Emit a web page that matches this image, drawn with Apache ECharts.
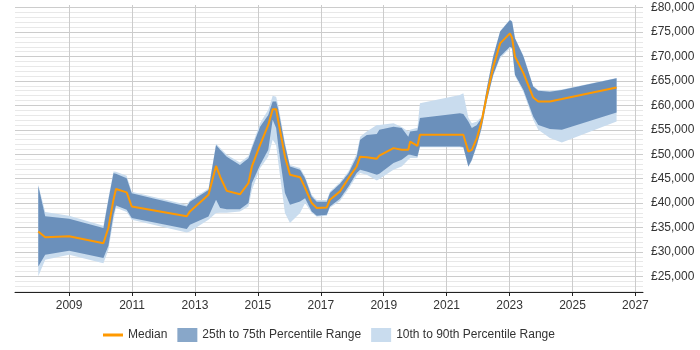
<!DOCTYPE html>
<html>
<head>
<meta charset="utf-8">
<script src="https://cdn.jsdelivr.net/npm/echarts@6/dist/echarts.min.js"></script>
<style>
  html, body { margin: 0; padding: 0; background: #fff; }
  #chart { width: 700px; height: 350px; }
</style>
</head>
<body>
<div id="chart"></div>
<script>
// decimal year of each sample
const years = [2008.02, 2008.24, 2009.0, 2010.09, 2010.25, 2010.41, 2010.49, 2010.83, 2010.99, 2012.74,
  2012.84, 2013.43, 2013.67, 2013.80, 2014.01, 2014.43, 2014.70, 2014.81, 2015.07, 2015.33,
  2015.47, 2015.58, 2015.65, 2015.86, 2016.02, 2016.34, 2016.50, 2016.71, 2016.87, 2017.19,
  2017.29, 2017.61, 2017.88, 2018.14, 2018.25, 2018.46, 2018.78, 2018.86, 2019.31, 2019.57,
  2019.78, 2019.84, 2020.07, 2020.15, 2021.42, 2021.53, 2021.69, 2021.80, 2021.96, 2022.11,
  2022.28, 2022.48, 2022.70, 2023.01, 2023.08, 2023.17, 2023.44, 2023.75, 2023.91, 2024.28,
  2024.66, 2026.40];

const median = [34200, 33000, 33200, 31800, 34950, 40700, 42900, 42200, 39300, 37300,
  38300, 41700, 47600, 45400, 42500, 41800, 44100, 47500, 51900, 56000,
  59200, 59200, 56700, 49500, 45800, 45300, 43100, 40000, 39000, 39100,
  40700, 42400, 45100, 47500, 49500, 49400, 49100, 49700, 51250, 50900,
  50900, 52600, 51700, 54000, 54000, 54000, 50550, 50900, 53300, 56700,
  62150, 67900, 72700, 74750, 73800, 70000, 66600, 61600, 60800, 60800,
  61300, 63650];

const p75 = [43500, 37300, 36800, 34900, 40700, 46100, 46000, 45100, 42000, 39300,
  40300, 42700, 51900, 50900, 49500, 47800, 49200, 51250, 55650, 58050,
  60800, 60800, 59100, 51900, 47500, 46800, 45100, 41350, 40300, 40300,
  42050, 43950, 46100, 49500, 52950, 53950, 54150, 55000, 55650, 55350,
  53600, 54650, 54850, 57400, 58400, 58250, 56700, 55350, 56000, 57450,
  63600, 70000, 75100, 77500, 77100, 73750, 70000, 63850, 63000, 62800,
  63150, 65550];

const p25 = [27000, 29400, 30250, 28750, 31250, 37600, 39500, 38650, 36950, 34700,
  35550, 37250, 40700, 39000, 38750, 38750, 40000, 44100, 47800, 50900,
  57050, 55350, 51600, 42050, 39650, 40350, 41000, 38300, 37400, 37600,
  39300, 40900, 43400, 46150, 46800, 46450, 45800, 46000, 48200, 48850,
  49900, 49900, 49550, 51600, 51600, 51500, 47500, 48850, 51900, 55400,
  61100, 66250, 70000, 72000, 71750, 66250, 63150, 57700, 56000, 55150,
  55000, 58550];

const p90 = [43750, 38200, 37400, 35350, 41100, 46450, 46400, 45600, 42300, 39650,
  40550, 43000, 52150, 51300, 49900, 48300, 49650, 51700, 56350, 59100,
  61950, 61750, 59900, 52350, 47800, 47200, 45450, 41700, 40650, 40650,
  42300, 44250, 46500, 50100, 53600, 54650, 56000, 56000, 56350, 55600,
  54650, 55000, 55400, 60450, 62150, 62500, 57450, 56350, 56700, 57650,
  63600, 70200, 75250, 77600, 77200, 73800, 70200, 64000, 63150, 62950,
  63250, 65600];

const p10 = [25000, 28400, 29400, 27700, 30450, 36600, 39050, 38200, 36600, 34000,
  34200, 36600, 37950, 38000, 38000, 38300, 39300, 42700, 47150, 49550,
  52950, 51900, 48200, 37950, 35900, 37950, 40000, 38000, 37200, 37400,
  39050, 40450, 42900, 45600, 46150, 45800, 44600, 44950, 46800, 47500,
  48850, 49250, 49250, 51450, 51450, 51300, 47400, 48650, 51700, 55200,
  60900, 66050, 69650, 71700, 71550, 66050, 62750, 57050, 55000, 53300,
  52400, 56700];

const xTicks = [2009, 2011, 2013, 2015, 2017, 2019, 2021, 2023, 2025, 2027];
const yTicks = [25000, 30000, 35000, 40000, 45000, 50000, 55000, 60000, 65000, 70000, 75000, 80000];
const yMinorTicks = [];
for (let v = 22000; v <= 80000; v += 1000) {
  if (v % 5000 !== 0) yMinorTicks.push(v);
}

const darkBlue = '#6b90bb';
const lightBlue = '#c9dcee';
const orange = '#ff9900';
const font = 'Liberation Sans, Arial, sans-serif';

const chart = echarts.init(document.getElementById('chart'));

// polygon between an upper and a lower percentile line
function band(hi, lo, color) {
  return function (params, api) {
    const pts = [];
    for (let i = 0; i < years.length; i++) pts.push(api.coord([years[i], hi[i]]));
    for (let i = years.length - 1; i >= 0; i--) pts.push(api.coord([years[i], lo[i]]));
    return {
      type: 'polygon',
      shape: { points: pts },
      style: { fill: color }
    };
  };
}

const gridLines = []
  .concat(yMinorTicks.map(v => ({ yAxis: v, lineStyle: { color: '#e8e8e8' } })))
  .concat(yTicks.map(v => ({ yAxis: v, lineStyle: { color: '#cccccc' } })))
  .concat(xTicks.map(v => ({ xAxis: v, lineStyle: { color: '#cccccc' } })));

const option = {
  animation: false,
  backgroundColor: '#fff',
  grid: { left: 15, right: 57, top: 5, bottom: 58, containLabel: false },
  legend: {
    left: 98,
    top: 323,
    itemWidth: 20,
    itemHeight: 14,
    itemGap: 10,
    textStyle: { fontFamily: font, fontSize: 12, color: '#333' },
    data: [
      { name: 'Median', icon: 'path://M0,0M20,14M0,5.5h20v3h-20z', itemStyle: { color: orange } },
      { name: '25th to 75th Percentile Range', icon: 'rect', itemStyle: { color: '#88a7c9' } },
      { name: '10th to 90th Percentile Range', icon: 'rect', itemStyle: { color: lightBlue } }
    ]
  },
  xAxis: {
    type: 'value',
    min: 2007.28,
    max: 2027.24,
    splitLine: { show: false },
    axisLine: { show: true, onZero: false, lineStyle: { color: '#222', width: 1 } },
    axisTick: { show: true, customValues: xTicks, length: 4, lineStyle: { color: '#222' } },
    axisLabel: {
      customValues: xTicks,
      margin: 8,
      fontFamily: font,
      fontSize: 12,
      color: '#333',
      formatter: v => String(v)
    }
  },
  yAxis: {
    type: 'value',
    position: 'right',
    min: 21800,
    max: 80550,
    splitLine: { show: false },
    axisLine: { show: false },
    axisTick: { show: false },
    axisLabel: {
      customValues: yTicks,
      margin: 8,
      fontFamily: font,
      fontSize: 12,
      color: '#333',
      formatter: v => '£' + v.toLocaleString('en-GB')
    }
  },
  series: [
    {
      name: 'gridlines',
      type: 'line',
      data: [],
      silent: true,
      z: 0,
      markLine: {
        silent: true,
        z: 0,
        symbol: ['none', 'none'],
        label: { show: false },
        lineStyle: { type: 'solid', width: 1 },
        data: gridLines
      }
    },
    {
      name: '10th to 90th Percentile Range',
      type: 'custom',
      data: [[years[0], p90[0]]],
      encode: { x: 0, y: 1 },
      itemStyle: { color: lightBlue },
      renderItem: band(p90, p10, lightBlue),
      silent: true,
      z: 1
    },
    {
      name: '25th to 75th Percentile Range',
      type: 'custom',
      data: [[years[0], p75[0]]],
      encode: { x: 0, y: 1 },
      itemStyle: { color: darkBlue },
      renderItem: band(p75, p25, darkBlue),
      silent: true,
      z: 2
    },
    {
      name: 'Median',
      type: 'line',
      data: years.map((x, i) => [x, median[i]]),
      symbol: 'none',
      lineStyle: { color: orange, width: 2 },
      itemStyle: { color: orange },
      z: 3
    }
  ]
};

chart.setOption(option);
</script>
</body>
</html>
